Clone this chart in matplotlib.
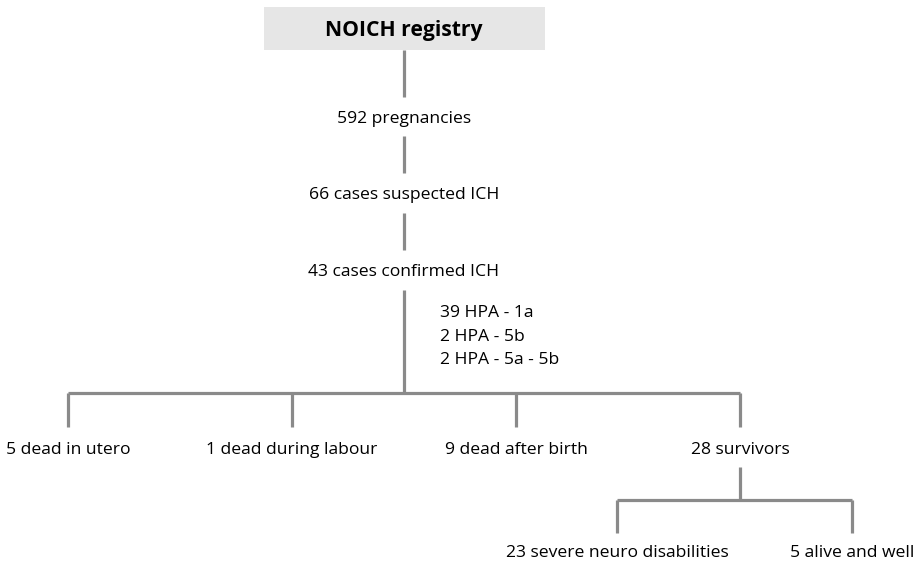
import matplotlib.pyplot as plt
from matplotlib.patches import Rectangle

plt.rcParams['font.family'] = ['Open Sans', 'DejaVu Sans']

# flowchart nodes (labels) on the main trunk
title = "NOICH registry"
trunk_labels = ["592 pregnancies", "66 cases suspected ICH", "43 cases confirmed ICH"]
hpa_lines = ["39 HPA - 1a", "2 HPA - 5b", "2 HPA - 5a - 5b"]
outcome_labels = ["5 dead in utero", "1 dead during labour", "9 dead after birth", "28 survivors"]
survivor_labels = ["23 severe neuro disabilities", "5 alive and well"]

# layout in pixel coords (y downwards)
W, H = 923, 561
trunk_x = 404
trunk_y = [119, 195, 272]
trunk_segs = [(50, 97), (136, 173), (213, 250), (290, 393)]
outcome_x = [68, 292, 516, 740]
split_y = 393
outcome_y = 450
survivor_x = [617, 852]
split2_y = 500
survivor_y = 553

line_col = "#8a8a8a"
lw = 2.3
fs = 12.6

fig = plt.figure(figsize=(W / 100, H / 100), dpi=100)
ax = fig.add_axes([0, 0, 1, 1])
ax.set_xlim(0, W)
ax.set_ylim(H, 0)
ax.axis("off")

# title box
ax.add_patch(Rectangle((264, 7), 281, 43, facecolor="#e6e6e6", edgecolor="none"))
ax.text(trunk_x, 30, title, ha="center", va="center", fontsize=15.2, fontweight="bold")

# main trunk
for y0, y1 in trunk_segs:
    ax.plot([trunk_x, trunk_x], [y0, y1], color=line_col, lw=lw, solid_capstyle="butt")
for y, lab in zip(trunk_y, trunk_labels):
    ax.text(trunk_x, y, lab, ha="center", va="center", fontsize=fs)

for i, lab in enumerate(hpa_lines):
    ax.text(440, 313 + i * 23.5, lab, ha="left", va="center", fontsize=fs)

# outcomes split
ax.plot([outcome_x[0], outcome_x[-1]], [split_y, split_y], color=line_col, lw=lw, solid_capstyle="butt")
for x, lab in zip(outcome_x, outcome_labels):
    ax.plot([x, x], [split_y, 427], color=line_col, lw=lw, solid_capstyle="butt")
    ax.text(x, outcome_y, lab, ha="center", va="center", fontsize=fs)

# survivors split
ax.plot([outcome_x[-1], outcome_x[-1]], [467, split2_y], color=line_col, lw=lw, solid_capstyle="butt")
ax.plot([survivor_x[0], survivor_x[-1]], [split2_y, split2_y], color=line_col, lw=lw, solid_capstyle="butt")
for x, lab in zip(survivor_x, survivor_labels):
    ax.plot([x, x], [split2_y, 533], color=line_col, lw=lw, solid_capstyle="butt")
    ax.text(x, survivor_y, lab, ha="center", va="center", fontsize=fs)

fig.savefig("out.png", dpi=100)
